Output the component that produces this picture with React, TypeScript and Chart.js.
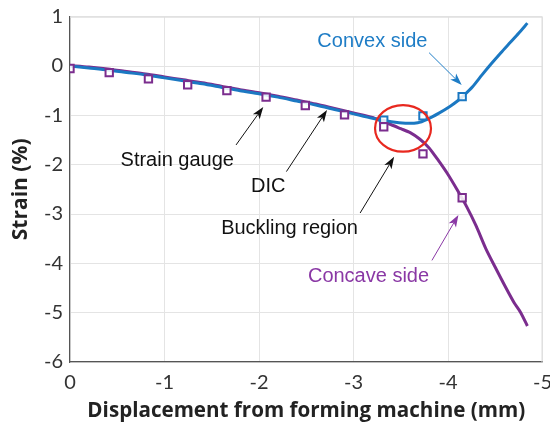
import React, { useEffect, useRef } from "react";
import { Chart, registerables } from "chart.js";

Chart.register(...registerables);

// DIC traces (displacement in mm, strain in %)
const convexX = [0, -0.2, -0.4, -0.6, -0.8, -1.0, -1.2, -1.4, -1.6, -1.8, -2.0, -2.2, -2.4, -2.6, -2.8, -3.0, -3.2, -3.4, -3.55, -3.68, -3.78, -3.9, -4.02, -4.1, -4.16, -4.26, -4.36, -4.46, -4.56, -4.66, -4.75, -4.84];
const convexY = [0, -0.04, -0.08, -0.13, -0.18, -0.24, -0.3, -0.36, -0.43, -0.5, -0.56, -0.63, -0.71, -0.79, -0.88, -0.97, -1.06, -1.13, -1.16, -1.15, -1.08, -0.96, -0.82, -0.71, -0.61, -0.42, -0.18, 0.05, 0.27, 0.48, 0.67, 0.87];

const concaveX = [0, -0.2, -0.4, -0.6, -0.8, -1.0, -1.2, -1.4, -1.6, -1.8, -2.0, -2.2, -2.4, -2.6, -2.8, -3.0, -3.2, -3.3, -3.4, -3.5, -3.6, -3.7, -3.8, -3.9, -4.0, -4.1, -4.2, -4.3, -4.4, -4.5, -4.6, -4.7, -4.77, -4.84];
const concaveY = [0.01, -0.02, -0.06, -0.11, -0.16, -0.22, -0.28, -0.34, -0.41, -0.48, -0.54, -0.61, -0.69, -0.77, -0.86, -0.95, -1.04, -1.12, -1.19, -1.27, -1.35, -1.48, -1.66, -1.92, -2.2, -2.52, -2.86, -3.25, -3.7, -4.08, -4.45, -4.8, -5.0, -5.27];

// Strain gauge readings
const gaugeConvexX = [-3.32, -3.735, -4.15];
const gaugeConvexY = [-1.1, -1.01, -0.62];
const gaugeConcaveX = [0, -0.415, -0.83, -1.245, -1.66, -2.075, -2.49, -2.905, -3.32, -3.735, -4.15];
const gaugeConcaveY = [-0.05, -0.135, -0.26, -0.38, -0.5, -0.63, -0.8, -0.99, -1.23, -1.78, -2.67];

// Callout labels and their arrows, in data units
const noteText = ["Convex side", "Strain gauge", "DIC", "Buckling region", "Concave side"];
const noteX = [-3.2, -1.135, -2.098, -2.323, -3.159];
const noteY = [0.507, -1.907, -2.448, -3.286, -4.26];
const arrowFromX = [-3.8, -1.757, -2.29, -3.07, -3.83];
const arrowFromY = [0.27, -1.6, -2.14, -2.98, -3.94];
const arrowToX = [-4.145, -2.045, -2.72, -3.43, -4.11];
const arrowToY = [-0.385, -0.83, -0.89, -1.84, -3.02];

// Buckling region ring
const ringCenter = [-3.524, -1.264];
const ringRadii = [0.296, 0.473];

const BLUE = "#1b78c2";
const PURPLE = "#7b2d8e";
const BLUE_TEXT = "#1f7dc6";
const PURPLE_TEXT = "#8a38a5";
const RED = "#e8281f";
const noteColor = [BLUE_TEXT, "#111111", "#111111", "#111111", PURPLE_TEXT];

const toPoints = (xs: number[], ys: number[]) => xs.map((x, i) => ({ x, y: ys[i] }));

function drawArrow(ctx: CanvasRenderingContext2D, x1: number, y1: number, x2: number, y2: number, color: string) {
  const ang = Math.atan2(y2 - y1, x2 - x1);
  const headLen = 12;
  const headHalf = 4.2;
  const bx = x2 - headLen * Math.cos(ang);
  const by = y2 - headLen * Math.sin(ang);
  ctx.save();
  ctx.strokeStyle = color;
  ctx.fillStyle = color;
  ctx.lineWidth = 1;
  ctx.beginPath();
  ctx.moveTo(x1, y1);
  ctx.lineTo(bx + 3 * Math.cos(ang), by + 3 * Math.sin(ang));
  ctx.stroke();
  ctx.beginPath();
  ctx.moveTo(x2, y2);
  ctx.lineTo(bx - headHalf * Math.sin(ang), by + headHalf * Math.cos(ang));
  ctx.lineTo(bx + 3 * Math.cos(ang), by + 3 * Math.sin(ang));
  ctx.lineTo(bx + headHalf * Math.sin(ang), by - headHalf * Math.cos(ang));
  ctx.closePath();
  ctx.fill();
  ctx.restore();
}

const notesPlugin = {
  id: "notes",
  beforeDatasetsDraw(chart: any) {
    const { ctx, chartArea } = chart;
    ctx.save();
    ctx.strokeStyle = "#dcdcdc";
    ctx.lineWidth = 1;
    ctx.beginPath();
    ctx.moveTo(chartArea.left, chartArea.top + 0.5);
    ctx.lineTo(chartArea.right - 0.5, chartArea.top + 0.5);
    ctx.lineTo(chartArea.right - 0.5, chartArea.bottom);
    ctx.stroke();
    ctx.restore();
  },
  afterDatasetsDraw(chart: any) {
    const { ctx } = chart;
    const xs = chart.scales.x;
    const ys = chart.scales.y;

    const cx = xs.getPixelForValue(ringCenter[0]);
    const cy = ys.getPixelForValue(ringCenter[1]);
    const rx = Math.abs(xs.getPixelForValue(ringCenter[0] - ringRadii[0]) - cx);
    const ry = Math.abs(ys.getPixelForValue(ringCenter[1] - ringRadii[1]) - cy);
    ctx.save();
    ctx.strokeStyle = RED;
    ctx.lineWidth = 2.2;
    ctx.beginPath();
    ctx.ellipse(cx, cy, rx, ry, 0, 0, Math.PI * 2);
    ctx.stroke();
    ctx.restore();

    for (let i = 0; i < noteText.length; i++) {
      drawArrow(
        ctx,
        xs.getPixelForValue(arrowFromX[i]),
        ys.getPixelForValue(arrowFromY[i]),
        xs.getPixelForValue(arrowToX[i]),
        ys.getPixelForValue(arrowToY[i]),
        noteColor[i]
      );
      ctx.save();
      ctx.font = '20px "Liberation Sans", Arial, sans-serif';
      ctx.fillStyle = noteColor[i];
      ctx.textAlign = "center";
      ctx.textBaseline = "middle";
      ctx.fillText(noteText[i], xs.getPixelForValue(noteX[i]), ys.getPixelForValue(noteY[i]));
      ctx.restore();
    }
  },
};

export default function App() {
  const ref = useRef<HTMLCanvasElement>(null);

  useEffect(() => {
    if (!ref.current) return;
    const tickFont = { family: "Lato, 'Open Sans', sans-serif", size: 20 };
    const xTitleFont = { family: "'Open Sans', Lato, sans-serif", size: 20.6, weight: "bold" as const, lineHeight: 1 };
    const yTitleFont = { family: "'Open Sans', Lato, sans-serif", size: 21, weight: "bold" as const, lineHeight: 1 };
    const chart = new Chart(ref.current, {
      type: "scatter",
      data: {
        datasets: [
          {
            label: "Strain gauge (concave)",
            data: toPoints(gaugeConcaveX, gaugeConcaveY),
            showLine: false,
            pointStyle: "rect",
            pointRadius: 5.2,
            pointBorderWidth: 2,
            borderColor: PURPLE,
            backgroundColor: "rgba(255,255,255,0.85)",
            order: 1,
          },
          {
            label: "Strain gauge (convex)",
            data: toPoints(gaugeConvexX, gaugeConvexY),
            showLine: false,
            pointStyle: "rect",
            pointRadius: 5.2,
            pointBorderWidth: 2,
            borderColor: BLUE,
            backgroundColor: "rgba(255,255,255,0.85)",
            order: 2,
          },
          {
            label: "Convex side",
            data: toPoints(convexX, convexY),
            showLine: true,
            borderColor: BLUE,
            borderWidth: 3,
            pointRadius: 0,
            tension: 0.25,
            order: 3,
          },
          {
            label: "Concave side",
            data: toPoints(concaveX, concaveY),
            showLine: true,
            borderColor: PURPLE,
            borderWidth: 3,
            pointRadius: 0,
            tension: 0.25,
            order: 4,
          },
        ],
      },
      options: {
        responsive: false,
        animation: false,
        layout: { padding: { left: 0, right: 7.5, top: 16.7, bottom: 0 } },
        plugins: { legend: { display: false }, tooltip: { enabled: false } },
        scales: {
          x: {
            type: "linear",
            reverse: true,
            min: -5,
            max: 0,
            afterFit: (s: any) => {
              s.height = 63;
              s.paddingLeft = 0;
              s.paddingRight = 0;
            },
            ticks: { stepSize: 1, font: tickFont, color: "#333333", padding: 9 },
            grid: { color: "#e4e4e4", drawTicks: false },
            border: { color: "#555555", width: 1.2 },
            title: {
              display: true,
              text: "Displacement from forming machine (mm)",
              font: xTitleFont,
              color: "#222222",
              padding: { top: 0, bottom: 4 },
            },
          },
          y: {
            type: "linear",
            min: -6,
            max: 1,
            afterFit: (s: any) => {
              s.width = 70;
              s.paddingTop = 0;
              s.paddingBottom = 0;
            },
            ticks: { stepSize: 1, font: tickFont, color: "#333333", padding: 7 },
            grid: { color: "#e4e4e4", drawTicks: false },
            border: { color: "#555555", width: 1.2 },
            title: {
              display: true,
              text: "Strain (%)",
              font: yTitleFont,
              color: "#222222",
              padding: { top: 10.5, bottom: 0 },
            },
          },
        },
      },
      plugins: [notesPlugin],
    });
    return () => chart.destroy();
  }, []);

  return (
    <div style={{ position: "absolute", left: 0, top: 0, width: 550, height: 425, background: "#ffffff" }}>
      <canvas ref={ref} width={550} height={425} style={{ display: "block" }} />
    </div>
  );
}
